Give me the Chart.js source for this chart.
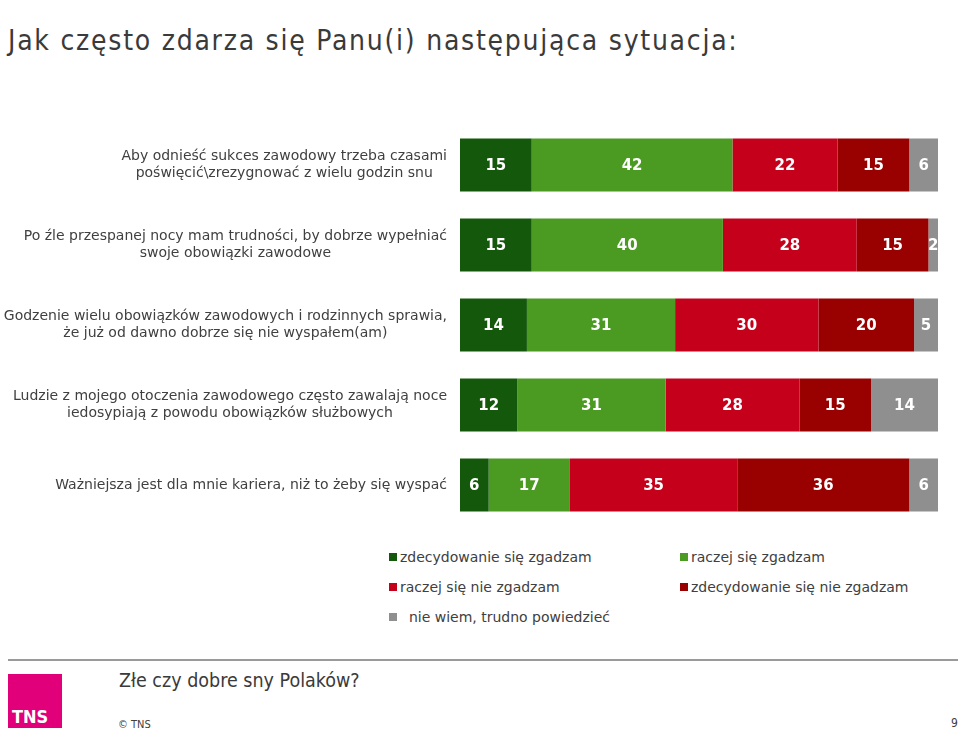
<!DOCTYPE html>
<html>
<head>
<meta charset="utf-8">
<script src="https://cdn.jsdelivr.net/npm/chart.js@4/dist/chart.umd.min.js"></script>
<style>
  body { margin: 0; width: 960px; height: 733px; background: #fff; position: relative; overflow: hidden; font-family: "DejaVu Sans", Verdana, sans-serif; color: #404040; }
  #title { position: absolute; left: 8px; top: 24px; font-family: "DejaVu Sans Condensed", "DejaVu Sans", sans-serif; font-size: 28px; letter-spacing: 1.75px; color: #3a3a3a; white-space: nowrap; }
  #wrap { position: absolute; left: 0; top: 0; width: 960px; height: 540px; }
  .leg { position: absolute; font-size: 14px; color: #404040; white-space: nowrap; line-height: 16px; }
  .leg i { display: inline-block; width: 8px; height: 8px; margin-right: 3px; vertical-align: 1px; }
  #rule { position: absolute; left: 8px; top: 659px; width: 950px; height: 2px; background: #9a9a9a; }
  #logo { position: absolute; left: 8px; top: 674px; width: 54px; height: 54px; background: #e2007a; }
  #logo span { position: absolute; left: 4px; bottom: 1px; color: #fff; font-family: "DejaVu Sans Condensed", "DejaVu Sans", sans-serif; font-weight: bold; font-size: 18px; }
  #sub { position: absolute; left: 119px; top: 669px; font-family: "DejaVu Sans Condensed", "DejaVu Sans", sans-serif; font-size: 19.5px; color: #3a3a3a; }
  #copy { position: absolute; left: 118px; top: 718px; font-family: "DejaVu Sans Condensed", "DejaVu Sans", sans-serif; font-size: 11px; color: #404040; }
  #page { position: absolute; left: 951px; top: 716px; font-family: "DejaVu Sans Condensed", "DejaVu Sans", sans-serif; font-size: 12px; color: #404040; }
</style>
</head>
<body>
<div id="title">Jak często zdarza się Panu(i) następująca sytuacja:</div>
<div id="wrap"><canvas id="chart"></canvas></div>
<div id="legend"></div>
<div id="rule"></div>
<div id="logo"><span>TNS</span></div>
<div id="sub">Złe czy dobre sny Polaków?</div>
<div id="copy">© TNS</div>
<div id="page">9</div>
<script>
// pytania (kategorie), każda jako lista linii
const pytania = [
  ["Aby odnieść sukces zawodowy trzeba czasami", "poświęcić\\zrezygnować z wielu godzin snu"],
  ["Po źle przespanej nocy mam trudności, by dobrze wypełniać", "swoje obowiązki zawodowe"],
  ["Godzenie wielu obowiązków zawodowych i rodzinnych sprawia,", "że już od dawno dobrze się nie wyspałem(am)"],
  ["Ludzie z mojego otoczenia zawodowego często zawalają noce", "iedosypiają z powodu obowiązków służbowych"],
  ["Ważniejsza jest dla mnie kariera, niż to żeby się wyspać"]
];

const odpowiedzi = [
  "zdecydowanie się zgadzam",
  "raczej się zgadzam",
  "raczej się nie zgadzam",
  "zdecydowanie się nie zgadzam",
  "nie wiem, trudno powiedzieć"
];

// wartości w % dla każdej odpowiedzi
const zdecydowanieTak = [15, 15, 14, 12, 6];
const raczejTak = [42, 40, 31, 31, 17];
const raczejNie = [22, 28, 30, 28, 35];
const zdecydowanieNie = [15, 15, 20, 15, 36];
const nieWiem = [6, 2, 5, 14, 6];

const kolory = ["#14580b", "#4b9a22", "#c4001b", "#990000", "#8f8f8f"];

const serie = [zdecydowanieTak, raczejTak, raczejNie, zdecydowanieNie, nieWiem];

// etykiety pytań po lewej: blok wyrównany do prawej, linie wyśrodkowane
const etykietyPytan = {
  id: "etykietyPytan",
  afterDraw(chart) {
    const ctx = chart.ctx;
    const y = chart.scales.y;
    const right = chart.chartArea.left - 13;
    ctx.save();
    ctx.font = "14px 'DejaVu Sans', Verdana, sans-serif";
    ctx.fillStyle = "#404040";
    ctx.textAlign = "center";
    ctx.textBaseline = "middle";
    pytania.forEach((linie, i) => {
      const cy = y.getPixelForValue(i);
      const w = Math.max(...linie.map(l => ctx.measureText(l).width));
      const cx = right - w / 2;
      linie.forEach((l, j) => {
        ctx.fillText(l, cx, cy + (j - (linie.length - 1) / 2) * 17);
      });
    });
    ctx.restore();
  }
};

// wartości na słupkach
const wartosci = {
  id: "wartosci",
  afterDatasetsDraw(chart) {
    const ctx = chart.ctx;
    ctx.save();
    ctx.font = "bold 15px 'DejaVu Sans', Verdana, sans-serif";
    ctx.fillStyle = "#ffffff";
    ctx.textAlign = "center";
    ctx.textBaseline = "middle";
    chart.data.datasets.forEach((ds, d) => {
      chart.getDatasetMeta(d).data.forEach((el, i) => {
        const c = el.getCenterPoint();
        ctx.fillText(ds.data[i], c.x, c.y + 1);
      });
    });
    ctx.restore();
  }
};

new Chart(document.getElementById("chart").getContext("2d"), {
  type: "bar",
  data: {
    labels: pytania.map(p => p.join(" ")),
    datasets: serie.map((s, i) => ({
      label: odpowiedzi[i],
      data: s,
      backgroundColor: kolory[i],
      borderWidth: 0,
      barPercentage: 1,
      categoryPercentage: 0.6625
    }))
  },
  options: {
    indexAxis: "y",
    responsive: true,
    maintainAspectRatio: false,
    animation: false,
    layout: { padding: { left: 460, right: 22, top: 125, bottom: 15 } },
    scales: {
      x: { stacked: true, min: 0, max: 100, display: false },
      y: { stacked: true, display: false }
    },
    plugins: {
      legend: { display: false },
      tooltip: { enabled: false }
    }
  },
  plugins: [etykietyPytan, wartosci]
});

// legenda w dwóch kolumnach
const pozycje = [[389, 549], [680, 549], [389, 579], [680, 579], [389, 609]];
const legend = document.getElementById("legend");
odpowiedzi.forEach((o, i) => {
  const d = document.createElement("div");
  d.className = "leg";
  d.style.left = pozycje[i][0] + "px";
  d.style.top = pozycje[i][1] + "px";
  d.innerHTML = '<i style="background:' + kolory[i] + '"></i>' + (i === 4 ? "&nbsp; " : "") + o;
  legend.appendChild(d);
});
</script>
</body>
</html>
